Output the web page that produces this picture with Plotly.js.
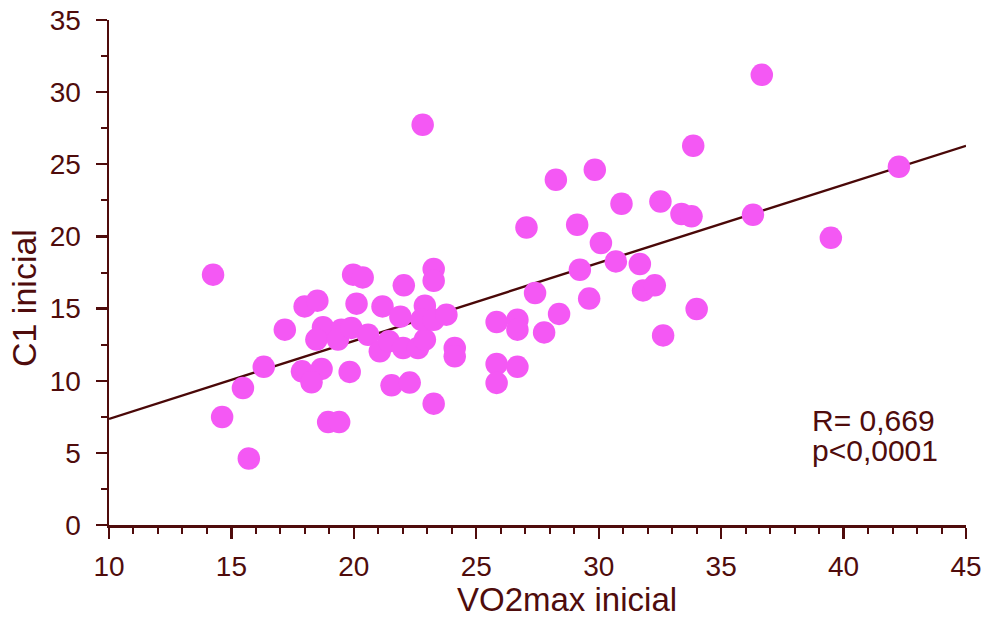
<!DOCTYPE html>
<html>
<head>
<meta charset="utf-8">
<script src="https://cdn.plot.ly/plotly-3.0.1.min.js"></script>
<style>html,body{margin:0;padding:0;background:#fff;}#chart{width:989px;height:621px;}</style>
</head>
<body>
<div id="chart"></div>
<script>
// VO2max inicial (x) and C1 inicial (y)
const vo2max = [14.25,14.62,15.71,15.47,16.32,17.18,17.99,18.51,18.74,18.47,17.88,18.68,18.27,18.95,19.40,19.49,19.35,19.90,19.97,20.36,20.11,20.58,19.83,21.17,21.06,21.43,21.54,22.04,21.90,22.01,22.28,22.62,22.90,22.90,22.76,23.26,23.78,23.26,23.26,23.26,22.81,24.12,24.12,25.83,25.83,25.83,26.68,26.68,26.68,27.05,27.40,27.77,28.25,28.38,29.12,29.23,29.61,29.84,30.09,30.70,30.93,31.68,31.81,32.29,32.52,32.63,33.38,33.79,33.86,34.00,36.30,36.66,39.48,42.26];
const c1 = [17.35,7.49,4.61,9.50,10.96,13.54,15.15,15.55,13.71,12.85,10.65,10.82,9.89,7.13,7.13,13.54,12.85,13.66,17.35,17.16,15.34,13.19,10.61,15.15,12.04,12.73,9.68,16.61,14.44,12.27,9.87,12.27,12.85,15.20,14.23,14.23,14.58,17.74,16.93,8.41,27.74,12.27,11.69,14.07,11.16,9.85,14.23,13.54,10.96,20.62,16.08,13.35,23.93,14.63,20.81,17.69,15.69,24.62,19.54,18.27,22.26,18.09,16.26,16.61,22.42,13.14,21.55,21.39,26.28,14.97,21.50,31.2,19.9,24.83];
// regression line end points
const fitX = [10, 45];
const fitY = [7.35, 26.28];
// text
const xTitle = "VO2max inicial";
const yTitle = "C1 inicial";
const statR = "R= 0,669";
const statP = "p<0,0001";

const dark = "#4f0c0c";
const font = "Liberation Sans, Arial, sans-serif";

const traces = [
  {x: fitX, y: fitY, mode: "lines", type: "scatter", line: {color: "#4a0808", width: 2.4}, hoverinfo: "skip"},
  {x: vo2max, y: c1, mode: "markers", type: "scatter", marker: {color: "#f458f4", size: 22.5, line: {width: 0}}}
];

const axisCommon = {
  showgrid: false, zeroline: false, showline: true, linecolor: dark, linewidth: 2.5,
  ticks: "outside", tickcolor: dark, tickwidth: 2.2, ticklen: 11,
  tickfont: {family: font, size: 28, color: dark},
  fixedrange: true
};

const layout = {
  width: 989, height: 621,
  margin: {l: 109, r: 23, t: 20, b: 95.5, pad: 0},
  paper_bgcolor: "#ffffff", plot_bgcolor: "#ffffff",
  showlegend: false,
  xaxis: Object.assign({}, axisCommon, {
    range: [10, 45], tick0: 10, dtick: 5, ticklabelstandoff: 4,
    minor: {ticks: "outside", dtick: 1, ticklen: 6, tickcolor: dark, tickwidth: 2}
  }),
  yaxis: Object.assign({}, axisCommon, {
    range: [0, 35], tick0: 0, dtick: 5, ticklabelstandoff: 9,
    minor: {ticks: "outside", dtick: 2.5, ticklen: 6, tickcolor: dark, tickwidth: 2}
  }),
  annotations: [
    {text: xTitle, xref: "paper", yref: "paper", x: 0.535, y: -0.1889, xanchor: "center", yanchor: "bottom", showarrow: false, font: {family: font, size: 33, color: dark}},
    {text: yTitle, xref: "paper", yref: "paper", x: -0.1, y: 0.45, xanchor: "center", yanchor: "middle", textangle: -90, showarrow: false, font: {family: font, size: 34, color: dark}},
    {text: statR, xref: "paper", yref: "paper", x: 0.818, y: 0.2067, xanchor: "left", yanchor: "middle", showarrow: false, font: {family: font, size: 30, color: dark}},
    {text: statP, xref: "paper", yref: "paper", x: 0.818, y: 0.147, xanchor: "left", yanchor: "middle", showarrow: false, font: {family: font, size: 30, color: dark}}
  ]
};

Plotly.newPlot("chart", traces, layout, {displayModeBar: false, staticPlot: true});
</script>
</body>
</html>
